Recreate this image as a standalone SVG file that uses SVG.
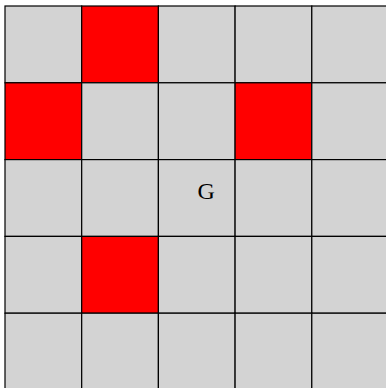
<svg xmlns="http://www.w3.org/2000/svg" width="386" height="388" viewBox="0 0 386 388">
<style>
.c{fill:#d3d3d3;stroke:#000;stroke-width:1.2}
.r{fill:#ff0000;stroke:#000;stroke-width:1.2}
.t{font-family:"Liberation Serif","DejaVu Serif",serif;font-size:24px;fill:#000}
</style>
<rect width="386" height="388" fill="#fff"/>
<g id="grid">
<rect class="c" x="5" y="6" width="76.7" height="76.8"/>
<rect class="r" x="81.7" y="6" width="76.7" height="76.8"/>
<rect class="c" x="158.4" y="6" width="76.7" height="76.8"/>
<rect class="c" x="235.1" y="6" width="76.7" height="76.8"/>
<rect class="c" x="311.8" y="6" width="76.7" height="76.8"/>
<rect class="r" x="5" y="82.8" width="76.7" height="76.8"/>
<rect class="c" x="81.7" y="82.8" width="76.7" height="76.8"/>
<rect class="c" x="158.4" y="82.8" width="76.7" height="76.8"/>
<rect class="r" x="235.1" y="82.8" width="76.7" height="76.8"/>
<rect class="c" x="311.8" y="82.8" width="76.7" height="76.8"/>
<rect class="c" x="5" y="159.6" width="76.7" height="76.8"/>
<rect class="c" x="81.7" y="159.6" width="76.7" height="76.8"/>
<rect class="c" x="158.4" y="159.6" width="76.7" height="76.8"/>
<rect class="c" x="235.1" y="159.6" width="76.7" height="76.8"/>
<rect class="c" x="311.8" y="159.6" width="76.7" height="76.8"/>
<rect class="c" x="5" y="236.4" width="76.7" height="76.8"/>
<rect class="r" x="81.7" y="236.4" width="76.7" height="76.8"/>
<rect class="c" x="158.4" y="236.4" width="76.7" height="76.8"/>
<rect class="c" x="235.1" y="236.4" width="76.7" height="76.8"/>
<rect class="c" x="311.8" y="236.4" width="76.7" height="76.8"/>
<rect class="c" x="5" y="313.2" width="76.7" height="76.8"/>
<rect class="c" x="81.7" y="313.2" width="76.7" height="76.8"/>
<rect class="c" x="158.4" y="313.2" width="76.7" height="76.8"/>
<rect class="c" x="235.1" y="313.2" width="76.7" height="76.8"/>
<rect class="c" x="311.8" y="313.2" width="76.7" height="76.8"/>
</g>
<g id="goal"><text class="t" x="206.2" y="199.3" text-anchor="middle">G</text></g>
</svg>
